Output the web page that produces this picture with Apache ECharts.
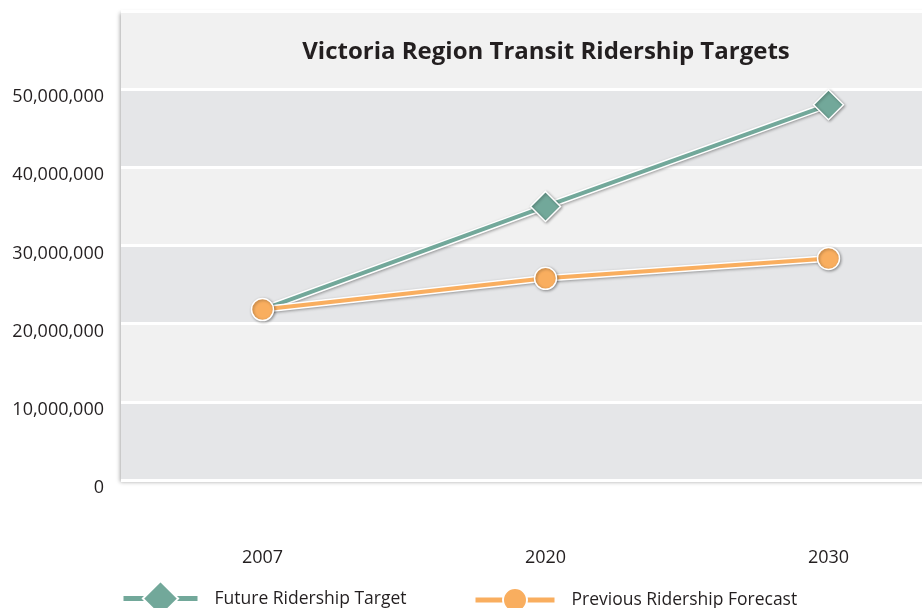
<!DOCTYPE html>
<html><head><meta charset="utf-8">
<script src="https://cdn.jsdelivr.net/npm/echarts@6/dist/echarts.min.js"></script>
<style>html,body{margin:0;padding:0;background:#fff}#c{width:922px;height:608px}</style>
</head><body><div id="c"></div>
<script>
const title = 'Victoria Region Transit Ridership Targets';
const years = ['2007', '2020', '2030'];
const targetName = 'Future Ridership Target';
const forecastName = 'Previous Ridership Forecast';
const targetValues = [21800000, 35000000, 48000000];
const forecastValues = [21800000, 25800000, 28350000];
const yTicks = [0, 10000000, 20000000, 30000000, 40000000, 50000000, 60000000];

const FONT = '"Open Sans", sans-serif';
const GREEN = '#72a89a', ORANGE = '#f9ae5f', TXT = '#231f20';
const fmt = v => v.toLocaleString('en-US');

const chart = echarts.init(document.getElementById('c'), null, {renderer: 'canvas'});
const shadow = {shadowColor: 'rgba(0,0,0,0.35)', shadowBlur: 3, shadowOffsetX: 1, shadowOffsetY: 1};
chart.setOption({
  animation: false,
  backgroundColor: '#fff',
  title: {text: title, left: 541, textAlign: 'center', top: 35,
    textStyle: {fontFamily: FONT, fontWeight: 'bold', fontSize: 24, color: TXT}},
  grid: {left: 121, top: 11, width: 849, bottom: 128, outerBoundsMode: 'none', containLabel: false,
    show: true, backgroundColor: '#f1f1f1', borderWidth: 0,
    shadowColor: 'rgba(0,0,0,0.35)', shadowBlur: 4, shadowOffsetX: -1, shadowOffsetY: 2},
  legend: [
    {data: [{name: targetName}], left: 116, top: 575, itemWidth: 74, itemHeight: 44, itemGap: 0,
      lineStyle: {width: 5},
      textStyle: {fontFamily: FONT, fontSize: 17.5, color: TXT, padding: [0, 0, 0, 12]}},
    {data: [{name: forecastName}], left: 468, top: 582, itemWidth: 79, itemHeight: 30, itemGap: 0,
      lineStyle: {width: 5},
      textStyle: {fontFamily: FONT, fontSize: 17.5, color: TXT, padding: [0, 0, 0, 12]}}
  ],
  xAxis: {type: 'category', data: years, boundaryGap: true,
    axisLine: {show: false}, axisTick: {show: false},
    axisLabel: {margin: 69, fontFamily: FONT, fontSize: 18, color: TXT}},
  yAxis: {type: 'value', min: yTicks[0], max: yTicks[yTicks.length - 1], interval: yTicks[1] - yTicks[0],
    axisLine: {show: false}, axisTick: {show: false},
    axisLabel: {margin: 17, fontFamily: FONT, fontSize: 18, color: TXT, showMaxLabel: false,
      verticalAlign: 'top', lineHeight: 16, formatter: v => fmt(v)},
    splitLine: {show: true, lineStyle: {color: '#ffffff', width: 3}},
    splitArea: {show: true, areaStyle: {color: ['#e5e6e8', '#f1f1f1']}}},
  series: [
    {type: 'line', data: targetValues, symbol: 'none', silent: true, z: 2,
      lineStyle: {color: '#ffffff', width: 7, ...shadow}},
    {name: targetName, type: 'line', symbol: 'diamond', symbolSize: [30, 30], z: 3,
      data: targetValues.map((v, i) => i === 0 ? {value: v, symbol: 'none'} : v),
      lineStyle: {color: GREEN, width: 4}, itemStyle: {color: GREEN, borderColor: '#fff', borderWidth: 1.5, ...shadow}},
    {type: 'line', data: forecastValues, symbol: 'none', silent: true, z: 4,
      lineStyle: {color: '#ffffff', width: 7, ...shadow}},
    {name: forecastName, type: 'line', data: forecastValues, symbol: 'circle', symbolSize: 22, z: 5,
      lineStyle: {color: ORANGE, width: 4}, itemStyle: {color: ORANGE, borderColor: '#fff', borderWidth: 1.5, ...shadow}}
  ]
});
</script></body></html>
